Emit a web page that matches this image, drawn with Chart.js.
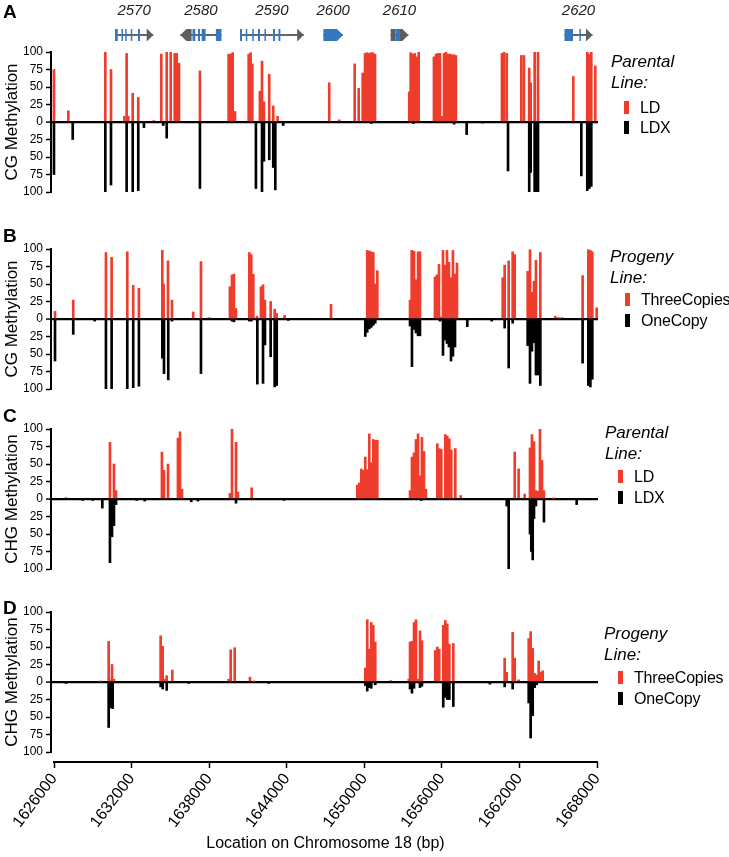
<!DOCTYPE html>
<html>
<head>
<meta charset="utf-8">
<script src="https://cdn.jsdelivr.net/npm/chart.js@4.4.0/dist/chart.umd.min.js"></script>
<style>
  body { margin: 0; background: #fff; font-family: 'Liberation Sans', Arial, sans-serif; color: #000; }
  #page { position: relative; width: 729px; height: 857px; overflow: hidden; }
  canvas { position: absolute; left: 0; }
  .tag { position: absolute; left: 3px; font-weight: bold; font-size: 19px; line-height: 19px; }
  .lg-title { position: absolute; font-style: italic; font-size: 17px; line-height: 21px; }
  .lg-item { position: absolute; font-size: 16px; line-height: 16px; white-space: nowrap; letter-spacing: -0.2px; }
  .sw { display: inline-block; width: 5px; height: 13px; margin-right: 11px; vertical-align: -1px; }
</style>
</head>
<body>
<div id="page">
  <canvas id="genes" width="729" height="50" style="top:0px"></canvas>
  <canvas id="panelA" width="729" height="165"></canvas>
  <canvas id="panelB" width="729" height="165"></canvas>
  <canvas id="panelC" width="729" height="165"></canvas>
  <canvas id="panelD" width="729" height="165"></canvas>
  <canvas id="axis" width="729" height="105" style="top:752px"></canvas>

  <div class="tag" style="top:2px">A</div>
  <div class="tag" style="top:226px">B</div>
  <div class="tag" style="top:406px">C</div>
  <div class="tag" style="top:598px">D</div>

  <div class="lg-title" style="left:611px;top:51px">Parental<br>Line:</div>
  <div class="lg-item" style="left:624px;top:100px"><span class="sw" style="background:#ee3d2c"></span>LD</div>
  <div class="lg-item" style="left:624px;top:120px"><span class="sw" style="background:#000"></span>LDX</div>

  <div class="lg-title" style="left:610px;top:246px">Progeny<br>Line:</div>
  <div class="lg-item" style="left:625px;top:292px"><span class="sw" style="background:#ee3d2c"></span>ThreeCopies</div>
  <div class="lg-item" style="left:625px;top:313px"><span class="sw" style="background:#000"></span>OneCopy</div>

  <div class="lg-title" style="left:605px;top:422px">Parental<br>Line:</div>
  <div class="lg-item" style="left:618px;top:469px"><span class="sw" style="background:#ee3d2c"></span>LD</div>
  <div class="lg-item" style="left:618px;top:490px"><span class="sw" style="background:#000"></span>LDX</div>

  <div class="lg-title" style="left:604px;top:623px">Progeny<br>Line:</div>
  <div class="lg-item" style="left:618px;top:670px"><span class="sw" style="background:#ee3d2c"></span>ThreeCopies</div>
  <div class="lg-item" style="left:618px;top:691px"><span class="sw" style="background:#000"></span>OneCopy</div>
</div>

<script>
// ---- data --------------------------------------------------------------
const xTicks = [1626000, 1632000, 1638000, 1644000, 1650000, 1656000, 1662000, 1668000];
const yTicks = [-100, -75, -50, -25, 0, 25, 50, 75, 100];

// gene track (positions in bp)
const geneNames   = ['2570', '2580', '2590', '2600', '2610', '2620'];
const geneStarts  = [1630718, 1635777, 1640387, 1646838, 1652044, 1665487];
const geneEnds    = [1633681, 1638956, 1645314, 1648354, 1653413, 1667653];
const geneStrands = [1, -1, 1, 1, 1, 1];
const geneExons = [
  [[1630718, 1630935], [1631221, 1631260], [1631507, 1631546], [1631940, 1631980], [1632497, 1632651]],
  [[1636713, 1636929], [1637138, 1637293], [1637424, 1637726], [1638523, 1638956]],
  [[1640387, 1640542], [1640836, 1640875], [1641339, 1641378], [1641780, 1641934], [1642282, 1642321], [1642940, 1643094], [1643365, 1643512]],
  [[1646838, 1648354]],
  [[1652400, 1652763]],
  [[1665487, 1666145], [1666640, 1666680]],
];
const geneUtrs = [
  [[1633170, 1633681]],
  [[1635777, 1636643]],
  [[1644811, 1645314]],
  [],
  [[1652044, 1652400], [1652763, 1653413]],
  [[1667150, 1667653]],
];

// panel A: CG methylation, parental lines  [position bp, % methylation]
const cgLD = [
  [1626000,75],[1627110,16],[1629970,100],[1630410,75],[1631440,8],[1631620,98],[1631750,8],[1632090,41],
  [1632520,35],[1633710,2],[1634300,97],[1634720,100],[1635030,100],[1635340,98],[1635490,98],[1635670,84],
  [1637290,73],[1639510,97],[1639670,97],[1639820,99],[1640000,15],[1641060,97],[1641210,99],[1641340,83],
  [1641930,44],[1642090,87],[1642240,29],[1642650,68],[1642960,23],[1643300,8],[1647290,56],[1648070,3],
  [1649260,83],[1649570,48],[1649880,70],[1650060,98],[1650210,99],[1650370,98],[1650520,99],[1650670,99],
  [1650830,97],[1653480,43],[1653590,99],[1653750,97],[1653900,98],[1654060,93],[1654210,100],[1655390,93],
  [1655550,97],[1655700,98],[1655860,98],[1656010,8],[1656170,98],[1656320,100],[1656480,97],[1656630,97],
  [1656790,96],[1656940,96],[1657090,95],[1660650,98],[1660810,100],[1661020,98],[1662150,95],[1662350,95],
  [1662760,77],[1662870,56],[1663180,100],[1663440,100],[1666170,65],[1667250,100],[1667410,97],[1667560,100],
  [1667870,80],
];
const cgLDX = [
  [1626000,75],[1627450,25],[1629970,100],[1630410,90],[1631620,100],[1632090,100],[1632520,98],[1632960,8],
  [1634450,5],[1634720,23],[1637290,95],[1641620,95],[1642090,100],[1642240,56],[1642650,54],[1642960,65],
  [1643120,97],[1643730,5],[1650550,2],[1653800,2],[1656950,3],[1657920,18],[1659160,1],[1661120,70],
  [1662760,100],[1662870,72],[1663180,100],[1663330,100],[1663440,100],[1666790,77],[1667250,98],[1667410,95],
  [1667560,92],
];

// panel B: CG methylation, progeny lines
const cgThree = [
  [1626080,11],[1627490,27],[1630020,95],[1630460,88],[1631670,96],[1632130,48],[1632570,44],[1634380,98],
  [1634480,50],[1634820,83],[1635130,27],[1636770,10],[1637370,82],[1637990,2],[1639610,46],[1639770,63],
  [1639920,64],[1640080,15],[1641110,95],[1641260,92],[1641420,64],[1641700,4],[1642010,46],[1642170,49],
  [1642320,27],[1642760,25],[1643070,14],[1643230,8],[1643840,5],[1647430,21],[1650230,98],[1650390,97],
  [1650540,96],[1650700,95],[1650850,50],[1651010,69],[1653540,27],[1653670,98],[1653850,97],[1654000,56],
  [1654160,96],[1654310,96],[1655470,60],[1655620,63],[1655780,78],[1655930,3],[1656090,98],[1656240,77],
  [1656400,98],[1656550,81],[1656710,59],[1656860,98],[1657020,64],[1657170,80],[1660710,59],[1660860,77],
  [1661170,83],[1661480,96],[1661640,92],[1662640,68],[1662820,99],[1662970,38],[1663130,54],[1663280,84],
  [1663620,95],[1664780,4],[1665000,2],[1665300,2],[1666890,62],[1667330,99],[1667490,98],[1667640,96],
  [1667980,16],
];
const cgOne = [
  [1626080,60],[1627490,22],[1629150,3],[1630020,100],[1630460,100],[1631670,100],[1632130,98],[1632570,96],
  [1634380,56],[1634510,78],[1634840,87],[1635130,3],[1637370,78],[1639770,3],[1639920,4],[1641110,3],
  [1641260,3],[1641730,93],[1642170,92],[1642320,37],[1642760,54],[1643070,97],[1643230,95],[1644120,2],
  [1650080,25],[1650230,19],[1650390,14],[1650540,12],[1650700,9],[1650850,6],[1653540,10],[1653690,68],
  [1653850,15],[1654000,20],[1654160,24],[1654310,24],[1655860,3],[1656090,52],[1656240,30],[1656400,35],
  [1656550,40],[1656710,60],[1656860,53],[1657020,40],[1657970,11],[1659860,3],[1660860,13],[1661170,70],
  [1661480,6],[1662640,38],[1662820,92],[1662970,46],[1663130,34],[1663280,80],[1663440,80],[1663620,95],
  [1666890,63],[1667330,95],[1667490,97],[1667640,86],
];

// panel C: CHG methylation, parental lines
const chgLD = [
  [1626930,2],[1630330,81],[1630640,50],[1630800,12],[1634350,67],[1634510,41],[1634820,50],[1635590,87],
  [1635750,96],[1635900,14],[1639610,8],[1639770,100],[1640080,81],[1640230,10],[1641290,16],[1649460,20],
  [1649620,23],[1649770,43],[1649920,41],[1650080,60],[1650230,42],[1650390,93],[1650540,52],[1650700,85],
  [1650850,84],[1651010,84],[1653540,12],[1653690,60],[1653850,66],[1654000,85],[1654160,93],[1654310,33],
  [1654460,88],[1654620,68],[1654770,14],[1655650,79],[1655800,72],[1655960,71],[1656270,92],[1656420,90],
  [1656580,86],[1656730,70],[1657040,72],[1657460,5],[1661640,67],[1661940,43],[1662410,7],[1662820,73],
  [1662970,92],[1663130,82],[1663280,12],[1663440,11],[1663590,100],[1663750,55],[1663900,12],[1664620,1],
];
const chgLDX = [
  [1628220,2],[1628990,2],[1629740,13],[1630330,91],[1630490,54],[1630640,38],[1630800,8],[1632400,2],
  [1633020,3],[1636620,4],[1637140,3],[1640080,6],[1643790,2],[1654410,2],[1661020,10],[1661170,100],
  [1662820,50],[1662920,75],[1663030,87],[1663130,28],[1663280,10],[1663900,33],[1666430,8],
];

// panel D: CHG methylation, progeny lines
const chgThree = [
  [1629610,1],[1630230,58],[1630330,3],[1630490,25],[1630640,4],[1634250,66],[1634410,51],[1634560,4],
  [1634720,9],[1635150,17],[1639510,4],[1639670,46],[1639980,49],[1641160,7],[1641470,1],[1650080,20],
  [1650230,89],[1650390,47],[1650540,85],[1650700,81],[1650850,57],[1652040,2],[1653440,4],[1653540,57],
  [1653690,58],[1653850,85],[1654000,89],[1654160,4],[1654310,73],[1654460,59],[1655490,45],[1655650,50],
  [1655800,47],[1656110,81],[1656270,88],[1656420,83],[1656580,54],[1656890,55],[1660860,34],[1661020,14],
  [1661480,71],[1661640,34],[1661940,3],[1662720,62],[1662870,72],[1663030,48],[1663180,12],[1663340,10],
  [1663490,30],[1663640,14],[1663800,16],
];
const chgOne = [
  [1626930,2],[1630230,65],[1630390,37],[1630540,38],[1634250,7],[1634410,10],[1634720,12],[1636420,2],
  [1642610,2],[1650080,5],[1650230,13],[1650390,8],[1650540,9],[1650850,4],[1653540,10],[1653690,16],
  [1653850,9],[1654310,8],[1654460,6],[1656110,36],[1656270,22],[1656420,25],[1656580,25],[1656890,35],
  [1659720,3],[1660860,7],[1661480,10],[1662720,30],[1662870,80],[1663030,48],[1663180,8],[1663340,4],
];

// ---- styling -----------------------------------------------------------
const FONT = "'Liberation Sans', Arial, sans-serif";
const RED = '#ee3d2c';
const BLACK = '#000';
const BLUE = '#3479c0';
const GREY = '#5b5e63';
const X_MIN = 1625770;   // a few px of gap between y spine and first site
const X_MAX = 1668080;

// ---- gene track --------------------------------------------------------
const genePlugin = {
  id: 'genes',
  afterDraw(chart) {
    const ctx = chart.ctx;
    const xs = chart.scales.x;
    const yc = 35, h = 12, tip = 6;
    ctx.save();
    geneNames.forEach((name, i) => {
      const x0 = xs.getPixelForValue(geneStarts[i]);
      const x1 = xs.getPixelForValue(geneEnds[i]);

      ctx.font = 'italic 15px ' + FONT;
      ctx.fillStyle = '#222';
      ctx.textAlign = 'center';
      ctx.textBaseline = 'middle';
      ctx.fillText(name, (x0 + x1) / 2, 11);

      ctx.strokeStyle = '#333';
      ctx.lineWidth = 1.5;
      ctx.beginPath();
      ctx.moveTo(x0, yc);
      ctx.lineTo(x1, yc);
      ctx.stroke();

      const blocks = geneUtrs[i].map(b => [b, GREY]).concat(geneExons[i].map(b => [b, BLUE]));
      blocks.forEach(([b, col]) => {
        const a = xs.getPixelForValue(b[0]);
        let z = xs.getPixelForValue(b[1]);
        if (z - a < 1.5) z = a + 1.5;
        const top = yc - h / 2, bot = yc + h / 2;
        ctx.fillStyle = col;
        ctx.beginPath();
        if (geneStrands[i] > 0 && b[1] >= geneEnds[i]) {
          ctx.moveTo(a, top); ctx.lineTo(z - tip, top); ctx.lineTo(z, yc);
          ctx.lineTo(z - tip, bot); ctx.lineTo(a, bot);
        } else if (geneStrands[i] < 0 && b[0] <= geneStarts[i]) {
          ctx.moveTo(z, top); ctx.lineTo(a + tip, top); ctx.lineTo(a, yc);
          ctx.lineTo(a + tip, bot); ctx.lineTo(z, bot);
        } else {
          ctx.rect(a, top, z - a, h);
        }
        ctx.closePath();
        ctx.fill();
      });
    });
    ctx.restore();
  }
};

new Chart(document.getElementById('genes'), {
  type: 'scatter',
  data: { datasets: [] },
  options: {
    responsive: false, animation: false, devicePixelRatio: 1,
    layout: { padding: { left: 51, right: 131, top: 0, bottom: 0 } },
    plugins: { legend: { display: false }, tooltip: { enabled: false } },
    scales: {
      x: { type: 'linear', min: X_MIN, max: X_MAX, display: false },
      y: { display: false },
    },
  },
  plugins: [genePlugin],
});

// ---- methylation panels ------------------------------------------------
function makePanel(id, chartTop, title, redPts, blackPts) {
  const cv = document.getElementById(id);
  cv.style.top = (chartTop - 12) + 'px';
  return new Chart(cv, {
    type: 'bar',
    data: {
      datasets: [
        { data: redPts.map(([x, v]) => ({ x, y: v })), backgroundColor: RED, barThickness: 2, grouped: false },
        { data: blackPts.map(([x, v]) => ({ x, y: -v })), backgroundColor: BLACK, barThickness: 2, grouped: false },
      ],
    },
    options: {
      responsive: false, animation: false, devicePixelRatio: 1,
      layout: { padding: { left: 0, right: 131, top: 12, bottom: 13 } },
      plugins: { legend: { display: false }, tooltip: { enabled: false } },
      scales: {
        x: { type: 'linear', min: X_MIN, max: X_MAX, offset: false, display: false },
        y: {
          min: -100, max: 100,
          afterFit: s => { s.width = 51; },
          afterBuildTicks: s => { s.ticks = yTicks.map(v => ({ value: v })); },
          border: { color: '#000', width: 2 },
          grid: {
            color: c => (c.tick && c.tick.value === 0 ? '#000' : 'rgba(0,0,0,0)'),
            lineWidth: c => (c.tick && c.tick.value === 0 ? 2.2 : 1),
            tickColor: '#000', tickLength: 5, tickWidth: 1.5,
          },
          ticks: { callback: v => Math.abs(v), color: '#000', font: { size: 12, family: FONT }, padding: 3 },
          title: { display: true, text: title, color: '#000', font: { size: 17, family: FONT }, padding: { top: 2, bottom: 0 } },
        },
      },
    },
  });
}

makePanel('panelA', 52, 'CG Methylation', cgLD, cgLDX);
makePanel('panelB', 249, 'CG Methylation', cgThree, cgOne);
makePanel('panelC', 429, 'CHG Methylation', chgLD, chgLDX);
makePanel('panelD', 612, 'CHG Methylation', chgThree, chgOne);

// ---- shared location axis ---------------------------------------------
new Chart(document.getElementById('axis'), {
  type: 'scatter',
  data: { datasets: [] },
  options: {
    responsive: false, animation: false, devicePixelRatio: 1,
    layout: { padding: { left: 54, right: 132, top: 0, bottom: 0 } },
    plugins: { legend: { display: false }, tooltip: { enabled: false } },
    scales: {
      x: {
        type: 'linear', position: 'bottom', min: xTicks[0], max: xTicks[xTicks.length - 1],
        afterFit: s => { s.height = 95; },
        afterBuildTicks: s => { s.ticks = xTicks.map(v => ({ value: v })); },
        border: { color: '#000', width: 2 },
        grid: { drawOnChartArea: false, tickColor: '#000', tickLength: 6, tickWidth: 1.5 },
        ticks: {
          minRotation: 53, maxRotation: 53, autoSkip: false,
          callback: v => String(v), color: '#000', font: { size: 16, family: FONT }, padding: 2,
        },
        title: {
          display: true, text: 'Location on Chromosome 18 (bp)', color: '#000',
          font: { size: 16, family: FONT }, padding: { top: 0, bottom: 4 },
        },
      },
      y: { display: false },
    },
  },
});
</script>
</body>
</html>
